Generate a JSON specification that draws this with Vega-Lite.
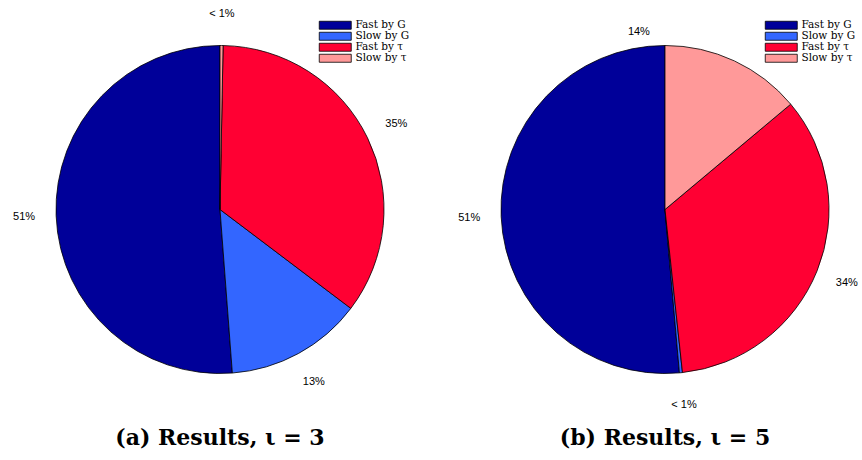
{
  "$schema": "https://vega.github.io/schema/vega-lite/v6.json",
  "padding": 0,
  "background": "white",
  "bounds": "flush",
  "data": {
    "values": [
      {"panel": "a", "cat": "Fast by G", "idx": 1, "value": 51.2, "label": "51%"},
      {"panel": "a", "cat": "Slow by G", "idx": 2, "value": 13.5, "label": "13%"},
      {"panel": "a", "cat": "Fast by τ", "idx": 3, "value": 35.0, "label": "35%"},
      {"panel": "a", "cat": "Slow by τ", "idx": 4, "value": 0.3, "label": "< 1%"},
      {"panel": "b", "cat": "Fast by G", "idx": 1, "value": 51.4, "label": "51%"},
      {"panel": "b", "cat": "Slow by G", "idx": 2, "value": 0.3, "label": "< 1%"},
      {"panel": "b", "cat": "Fast by τ", "idx": 3, "value": 34.4, "label": "34%"},
      {"panel": "b", "cat": "Slow by τ", "idx": 4, "value": 13.9, "label": "14%"}
    ]
  },
  "spacing": 28,
  "hconcat": [
    {
      "width": 440,
      "height": 419,
      "title": {"text": "(a) Results, ι = 3", "orient": "bottom", "offset": 9},
      "transform": [{"filter": "datum.panel === 'a'"}],
      "encoding": {
        "theta": {"field": "value", "type": "quantitative", "stack": true},
        "order": {"field": "idx", "type": "quantitative", "sort": "descending"}
      },
      "layer": [
        {
          "mark": {"type": "arc", "outerRadius": 164, "stroke": "black", "strokeWidth": 0.8},
          "encoding": {
            "color": {
              "field": "cat",
              "type": "nominal",
              "sort": null,
              "scale": {
                "domain": ["Fast by G", "Slow by G", "Fast by τ", "Slow by τ"],
                "range": ["#000099", "#3366ff", "#ff0033", "#ff9999"]
              },
              "legend": {"orient": "none", "legendX": 330, "legendY": 20}
            }
          }
        },
        {
          "mark": {"type": "text", "radius": 196, "font": "Liberation Sans", "fontSize": 11, "color": "black"},
          "encoding": {"text": {"field": "label"}}
        }
      ]
    },
    {
      "width": 394,
      "height": 419,
      "title": {"text": "(b)  Results, ι = 5", "orient": "bottom", "offset": 9},
      "transform": [{"filter": "datum.panel === 'b'"}],
      "encoding": {
        "theta": {"field": "value", "type": "quantitative", "stack": true},
        "order": {"field": "idx", "type": "quantitative", "sort": "descending"}
      },
      "layer": [
        {
          "mark": {"type": "arc", "outerRadius": 164, "stroke": "black", "strokeWidth": 0.8},
          "encoding": {
            "color": {
              "field": "cat",
              "type": "nominal",
              "sort": null,
              "scale": {
                "domain": ["Fast by G", "Slow by G", "Fast by τ", "Slow by τ"],
                "range": ["#000099", "#3366ff", "#ff0033", "#ff9999"]
              },
              "legend": {"orient": "none", "legendX": 308, "legendY": 20}
            }
          }
        },
        {
          "mark": {"type": "text", "radius": 196, "font": "Liberation Sans", "fontSize": 11, "color": "black"},
          "encoding": {
            "text": {"condition": {"test": "datum.cat !== 'Slow by τ'", "field": "label"}, "value": ""}
          }
        },
        {
          "mark": {"type": "text", "radius": 196, "dx": -109, "font": "Liberation Sans", "fontSize": 11, "color": "black"},
          "encoding": {
            "text": {"condition": {"test": "datum.cat === 'Slow by τ'", "field": "label"}, "value": ""}
          }
        }
      ]
    }
  ],
  "resolve": {
    "scale": {"color": "independent", "theta": "independent"},
    "legend": {"color": "independent"}
  },
  "config": {
    "view": {"stroke": null},
    "title": {"font": "DejaVu Serif", "fontSize": 22, "fontWeight": "bold", "color": "black", "anchor": "middle"},
    "legend": {
      "title": null,
      "symbolType": "M-4,-1L4,-1L4,1L-4,1Z",
      "symbolSize": 64,
      "symbolStrokeColor": "black",
      "symbolStrokeWidth": 0.8,
      "symbolOpacity": 1,
      "labelFont": "DejaVu Serif",
      "labelFontSize": 10.5,
      "labelColor": "black",
      "labelOffset": 15,
      "rowPadding": -2,
      "padding": 0
    }
  }
}
